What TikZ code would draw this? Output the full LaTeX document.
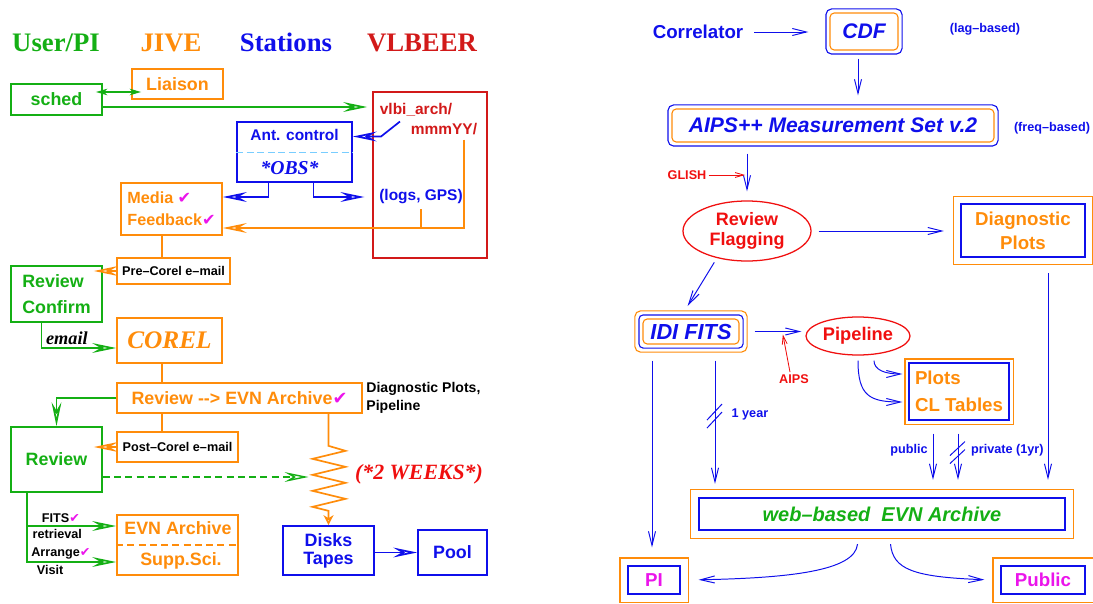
\documentclass[tikz,border=0pt]{standalone}
\usepackage{fontspec}
\setsansfont{Liberation Sans}
\newfontfamily\checkfont{DejaVu Sans}
\newfontfamily\headfont{Liberation Serif}
\usepackage{tikz}
\usetikzlibrary{arrows.meta, shapes.geometric, fit}
\usepackage{xcolor}

\definecolor{usergreen}{RGB}{20,175,20}
\definecolor{jiveorange}{RGB}{255,140,10}
\definecolor{stnblue}{RGB}{15,15,235}
\definecolor{vlbred}{RGB}{210,25,25}
\definecolor{flagred}{RGB}{240,15,15}
\definecolor{tickmag}{RGB}{235,20,235}
\definecolor{dashcyan}{RGB}{120,205,255}

\newlength{\unitpx}
\setlength{\unitpx}{0.025cm}
\newcommand{\okmark}{{\checkfont\mdseries\upshape\color{tickmag}\char"2714}}

\begin{document}
\begin{tikzpicture}[x=0.025cm, y=-0.025cm, >={Stealth[open, length=17pt, width=7pt, inset=6pt]}]

  \tikzstyle{hdr} = [anchor=base, font=\headfont\bfseries\fontsize{19}{22}\selectfont];
  \tikzstyle{lbox} = [draw, line width=1.2pt, inner sep=0pt, align=center, font=\sffamily\bfseries\fontsize{12.7}{15}\selectfont];
  \tikzstyle{rbox} = [draw, line width=0.8pt, rounded corners=3pt, inner sep=0pt, align=center];
  \tikzstyle{sbox} = [draw, line width=0.8pt, inner sep=0pt, align=center];
  \tikzstyle{outerframe} = [draw, line width=0.8pt, inner sep=3.5\unitpx];
  \tikzstyle{note} = [inner sep=1.5pt, font=\sffamily\bfseries\fontsize{9}{11}\selectfont];
  \tikzstyle{small} = [font=\sffamily\bfseries\fontsize{11}{13}\selectfont];
  \tikzstyle{garr} = [usergreen, line width=1.2pt, ->];
  \tikzstyle{oarr} = [jiveorange, line width=1.2pt, ->];
  \tikzstyle{barr} = [stnblue, line width=1.2pt, ->];
  \tikzstyle{tarr} = [stnblue, line width=0.7pt, -{Straight Barb[length=10pt, width=5pt]}];
  \tikzstyle{redarr} = [flagred, line width=0.6pt, -{Straight Barb[length=6pt, width=3.5pt]}];

  \useasboundingbox (0,0) rectangle (1093,604);

  \node[hdr, usergreen] (hpi) at (56,52) {User/PI};
  \node[hdr, jiveorange] (hjive) at (171,52) {JIVE};
  \node[hdr, stnblue] (hstat) at (286,52) {Stations};
  \node[hdr, vlbred] (hvlb) at (422,52) {VLBEER};

  \node[lbox, jiveorange, minimum width=91\unitpx, minimum height=30\unitpx] (liaison) at (177.5,84) {Liaison};
  \node[lbox, usergreen, minimum width=91\unitpx, minimum height=31\unitpx] (sched) at (56.5,99.5) {sched};
  \node[lbox, vlbred, minimum width=114\unitpx, minimum height=166\unitpx] (vlbeer) at (430,175) {};
  \node[small, vlbred] (vlbi) at (416,110) {vlbi\_arch/};
  \node[small, vlbred] (mmm) at (444,129) {mmmYY/};
  \node[lbox, stnblue, minimum width=115\unitpx, minimum height=60\unitpx] (ant) at (294.5,152) {};
  \node[small, stnblue] (antlbl) at (294.5,135) {Ant. control};
  \node[stnblue, font=\headfont\bfseries\itshape\fontsize{14}{16}\selectfont] (obs) at (289.5,168) {*OBS*};
  \node[small, stnblue] (logs) at (421,197) {(logs, GPS)};
  \node[lbox, jiveorange, align=left, minimum width=101\unitpx, minimum height=52\unitpx, font=\sffamily\bfseries\fontsize{11.5}{15.6}\selectfont] (media) at (171.5,209) {Media \okmark\\Feedback\okmark};
  \node[lbox, jiveorange, text=black, minimum width=113\unitpx, minimum height=26\unitpx, font=\sffamily\bfseries\fontsize{9}{11}\selectfont] (precorel) at (173.5,271) {Pre--Corel e--mail};
  \node[lbox, usergreen, align=left, minimum width=91\unitpx, minimum height=56\unitpx, font=\sffamily\bfseries\fontsize{12.7}{18.4}\selectfont] (revconf) at (56.5,294) {Review\\Confirm};
  \node[lbox, jiveorange, minimum width=105\unitpx, minimum height=45\unitpx, font=\headfont\bfseries\itshape\fontsize{18}{21}\selectfont] (corel) at (169.5,340.5) {COREL};
  \node[lbox, jiveorange, minimum width=245\unitpx, minimum height=30\unitpx] (revarch) at (239.5,398) {Review -{}-> EVN Archive\okmark};
  \node[note, anchor=west, align=left, font=\sffamily\bfseries\fontsize{10}{12.8}\selectfont] (diagtxt) at (364,398) {Diagnostic Plots,\\Pipeline};
  \node[lbox, usergreen, minimum width=91\unitpx, minimum height=65\unitpx] (review) at (56.5,459.5) {Review};
  \node[lbox, jiveorange, text=black, minimum width=121\unitpx, minimum height=30\unitpx, font=\sffamily\bfseries\fontsize{9}{11}\selectfont] (postcorel) at (177.5,447) {Post--Corel e--mail};
  \node[lbox, jiveorange, minimum width=121\unitpx, minimum height=60\unitpx] (evnarch) at (177.5,545) {};
  \node[jiveorange, font=\sffamily\bfseries\fontsize{12.7}{15}\selectfont] (evntxt) at (178,528) {EVN Archive};
  \node[jiveorange, font=\sffamily\bfseries\fontsize{12.7}{15}\selectfont] (supptxt) at (181,561) {Supp.Sci.};
  \node[lbox, stnblue, minimum width=91\unitpx, minimum height=49\unitpx, font=\sffamily\bfseries\fontsize{12.7}{12.8}\selectfont] (disks) at (328.5,550.5) {Disks\\Tapes};
  \node[lbox, stnblue, minimum width=69\unitpx, minimum height=45\unitpx] (pool) at (452.5,552.5) {Pool};
  \node[flagred, font=\headfont\bfseries\itshape\fontsize{15.5}{18}\selectfont] (weeks) at (419,474) {(*2 WEEKS*)};

  \draw[dashcyan, line width=0.7pt, dash pattern=on 5pt off 2.5pt] (ant.west) -- (ant.east);
  \draw[jiveorange, line width=1.2pt, dash pattern=on 5pt off 3pt] (evnarch.west) -- (evnarch.east);

  \coordinate (sl) at ([yshift=7.5\unitpx]sched.east);
  \draw[usergreen, line width=1.2pt, {Stealth[open, length=8pt, width=4.5pt, inset=2pt]}-{Stealth[open, length=8pt, width=4.5pt, inset=2pt]}, shorten <=-7\unitpx, shorten >=-10\unitpx] (sl) -- (sl -| liaison.west);
  \coordinate (sv) at ([yshift=-7.5\unitpx]sched.east);
  \draw[garr, shorten >=5\unitpx] (sv) -- (sv -| vlbeer.west);
  \draw[barr] ([xshift=-16\unitpx]vlbi.south) -- ++(-19,15) coordinate (va) -- (va -| ant.east);
  \draw[barr] ([xshift=-26\unitpx]ant.south) |- ([yshift=12\unitpx]media.east);
  \draw[barr, shorten >=10\unitpx] ([xshift=19\unitpx]ant.south) |- (logs.west);
  \coordinate (mf) at ([yshift=-19\unitpx]media.east);
  \draw[oarr] ([xshift=20\unitpx]mmm.south) |- (mf);
  \draw[jiveorange, line width=1.2pt] (logs.south) -- (logs.south |- mf);

  \coordinate (spine) at (162,0);
  \draw[jiveorange, line width=1.2pt] (media.south -| spine) -- (precorel.north -| spine);
  \draw[oarr, shorten >=-9\unitpx] (precorel.west) -- (precorel.west -| revconf.east);
  \coordinate (ce) at ([yshift=-7.5\unitpx]corel.west);
  \draw[garr] ([xshift=-15\unitpx]revconf.south) |- node[pos=0.67, above=-1.5pt, black, font=\headfont\bfseries\itshape\fontsize{13}{15}\selectfont] {email} (ce);
  \draw[jiveorange, line width=1.2pt] (corel.south -| spine) -- (revarch.north -| spine);
  \draw[garr] (revarch.west) -| (review.north);
  \draw[jiveorange, line width=1.2pt] (revarch.south -| spine) -- (postcorel.north -| spine);
  \draw[oarr, shorten >=-9\unitpx] (postcorel.west) -- (postcorel.west -| review.east);

  \draw[jiveorange, line width=1.2pt, -{Stealth[open, length=7pt, width=7pt, inset=2pt]}] (revarch.south -| disks.north) -- ++(0,32) -- ++(17,5) -- ++(-33,8) -- ++(33,8) -- ++(-33,8) coordinate (zz) -- ++(33,8) -- ++(-33,8) -- ++(33,8) -- ++(-33,8) -- ++(16,4) -- (disks.north);
  \coordinate (rd) at ([yshift=-17.5\unitpx]review.east);
  \draw[garr, line width=1pt, dash pattern=on 5pt off 3pt, shorten >=4\unitpx] (rd) -- (rd -| zz);

  \coordinate (rv) at ([xshift=-29.5\unitpx]review.south);
  \draw[garr] (rv) |- node[note, above, pos=0.69, text=black] {FITS\okmark} node[note, below, pos=0.67, text=black] {retrieval} ([yshift=19\unitpx]evnarch.west);
  \draw[garr] (rv) |- node[note, above, pos=0.69, text=black] {Arrange\okmark} node[note, below, pos=0.63, text=black] {Visit} ([yshift=-17\unitpx]evnarch.west);
  \draw[barr] (pool.west -| disks.east) -- (pool.west);

  \node[stnblue, font=\sffamily\bfseries\fontsize{13.3}{16}\selectfont] (correl) at (698,32) {Correlator};
  \node[rbox, draw=jiveorange, text=stnblue, minimum width=68\unitpx, minimum height=37\unitpx, font=\sffamily\bfseries\itshape\fontsize{15}{18}\selectfont] (cdfin) at (864,31.5) {CDF};
  \node[outerframe, draw=stnblue, rounded corners=4pt, fit=(cdfin)] (cdf) {};
  \node[note, stnblue] (lag) at (985,29) {(lag--based)};
  \node[rbox, draw=jiveorange, text=stnblue, minimum width=322\unitpx, minimum height=33\unitpx, font=\sffamily\bfseries\itshape\fontsize{15}{18}\selectfont] (aipsin) at (833,125.5) {AIPS++ Measurement Set v.2};
  \node[outerframe, draw=stnblue, rounded corners=4pt, fit=(aipsin)] (aips) {};
  \node[note, stnblue] (freq) at (1052,128) {(freq--based)};
  \node[note, flagred] (glish) at (687,175) {GLISH};
  \node[ellipse, draw=flagred, text=flagred, line width=0.9pt, inner sep=0pt, minimum width=128\unitpx, minimum height=60\unitpx, align=center, font=\sffamily\bfseries\fontsize{12.8}{14}\selectfont] (flag) at (747,231) {Review\\Flagging};
  \node[sbox, draw=stnblue, text=jiveorange, minimum width=124\unitpx, minimum height=53\unitpx, font=\sffamily\bfseries\fontsize{13.3}{17}\selectfont] (diagin) at (1023,230.5) {Diagnostic\\Plots};
  \node[outerframe, draw=jiveorange, inner sep=7\unitpx, fit=(diagin)] (diag) {};
  \node[rbox, draw=jiveorange, text=stnblue, minimum width=96\unitpx, minimum height=25\unitpx, font=\sffamily\bfseries\itshape\fontsize{15.5}{18}\selectfont] (idiin) at (691,331.5) {IDI FITS};
  \node[outerframe, draw=stnblue, rounded corners=3pt, fit=(idiin)] (idimid) {};
  \node[outerframe, draw=jiveorange, rounded corners=4pt, fit=(idimid)] (idi) {};
  \node[ellipse, draw=flagred, text=flagred, line width=0.9pt, inner sep=0pt, minimum width=104\unitpx, minimum height=38\unitpx, font=\sffamily\bfseries\fontsize{13}{15}\selectfont] (pipe) at (858,336) {Pipeline};
  \node[note, flagred] (aipslbl) at (794,379) {AIPS};
  \node[sbox, draw=stnblue, text=jiveorange, align=left, minimum width=100\unitpx, minimum height=57\unitpx, font=\sffamily\bfseries\fontsize{13.3}{19}\selectfont] (plotsin) at (959,391.5) {Plots\\CL Tables};
  \node[outerframe, draw=jiveorange, fit=(plotsin)] (plots) {};
  \node[sbox, draw=stnblue, text=usergreen, minimum width=366\unitpx, minimum height=32\unitpx, font=\sffamily\bfseries\itshape\fontsize{14.2}{17}\selectfont] (webin) at (882,514) {web--based\ \ EVN Archive};
  \node[outerframe, draw=jiveorange, inner sep=8\unitpx, fit=(webin)] (web) {};
  \node[sbox, draw=stnblue, text=tickmag, minimum width=52\unitpx, minimum height=28\unitpx, font=\sffamily\bfseries\fontsize{13.3}{16}\selectfont] (piin) at (654,580) {PI};
  \node[outerframe, draw=jiveorange, inner sep=7.5\unitpx, fit=(piin)] (pi) {};
  \node[sbox, draw=stnblue, text=tickmag, minimum width=84\unitpx, minimum height=28\unitpx, font=\sffamily\bfseries\fontsize{13.3}{16}\selectfont] (pubin) at (1043,580) {Public};
  \node[outerframe, draw=jiveorange, inner sep=7.5\unitpx, fit=(pubin)] (public) {};

  \draw[tarr, shorten <=6\unitpx, shorten >=17\unitpx] (correl.east) -- (correl.east -| cdf.west);
  \coordinate (c1) at ([xshift=-6\unitpx]cdf.south);
  \draw[tarr, shorten <=4\unitpx, shorten >=9\unitpx] (c1) -- (c1 |- aips.north);
  \draw[tarr, shorten <=7\unitpx, shorten >=9\unitpx] (flag.north |- aips.south) -- (flag.north);
  \draw[redarr, shorten >=2\unitpx] (glish.east) -- (glish.east -| flag.north);
  \draw[tarr, shorten <=7\unitpx, shorten >=9\unitpx] (flag.east) -- (flag.east -| diag.west);
  \coordinate (d1) at ([xshift=25\unitpx]diag.south);
  \draw[tarr, shorten <=8\unitpx, shorten >=9\unitpx] (d1) -- (d1 |- web.north);
  \draw[tarr, shorten <=5\unitpx, shorten >=5\unitpx] (flag.222) -- ([xshift=-6\unitpx]idi.north);
  \draw[tarr, shorten <=7\unitpx, shorten >=4\unitpx] (idi.east) -- coordinate[pos=0.6] (ap) (idi.east -| pipe.west);
  \draw[redarr, shorten >=3\unitpx] ([xshift=-4\unitpx]aipslbl.north) -- (ap);

  \coordinate (q1) at ([xshift=16\unitpx]pipe.south);
  \coordinate (q2) at ([yshift=17.5\unitpx]plots.west);
  \coordinate (q3) at ([yshift=-10.5\unitpx]plots.west);
  \draw[tarr, shorten <=5\unitpx, shorten >=2\unitpx] (q1) .. controls +(0,14) and +(-20,0) .. (q2);
  \draw[tarr, shorten <=5\unitpx, shorten >=2\unitpx] (pipe.south) .. controls +(0,40) and +(-35,0) .. (q3);

  \coordinate (u1) at ([xshift=-26\unitpx]plots.south);
  \coordinate (u2) at ([xshift=-1\unitpx]plots.south);
  \draw[tarr, shorten <=9\unitpx, shorten >=9\unitpx] (u1) -- node[note, left=2pt, pos=0.4] {public} (u1 |- web.north);
  \draw[tarr, shorten <=9\unitpx, shorten >=9\unitpx] (u2) -- coordinate[pos=0.45] (k2) node[note, right=7.5pt, pos=0.4] {private (1yr)} (u2 |- web.north);
  \draw[stnblue, line width=0.7pt] (k2) ++(-8,2) -- ++(15,-14) (k2) ++(-8,10) -- ++(15,-14);

  \coordinate (i1) at ([xshift=-39\unitpx]idi.south);
  \coordinate (i2) at ([xshift=24\unitpx]idi.south);
  \draw[tarr, shorten <=8\unitpx, shorten >=10\unitpx] (i1) -- (i1 |- pi.north);
  \draw[tarr, shorten <=8\unitpx, shorten >=5\unitpx] (i2) -- coordinate[pos=0.48] (k1) node[note, right=10pt, pos=0.45] {1 year} (i2 |- web.north);
  \draw[stnblue, line width=0.7pt] (k1) ++(-8,2) -- ++(15,-16) (k1) ++(-8,10) -- ++(15,-16);

  \coordinate (w1) at ([xshift=-24\unitpx]web.south);
  \coordinate (w2) at ([xshift=8\unitpx]web.south);
  \draw[tarr, shorten <=5\unitpx, shorten >=10\unitpx] (w1) .. controls +(-3,32) and +(100,-2) .. (pi.east);
  \draw[tarr, shorten <=5\unitpx, shorten >=8\unitpx] (w2) .. controls +(3,30) and +(-80,-3) .. (public.west);
\end{tikzpicture}
\end{document}
